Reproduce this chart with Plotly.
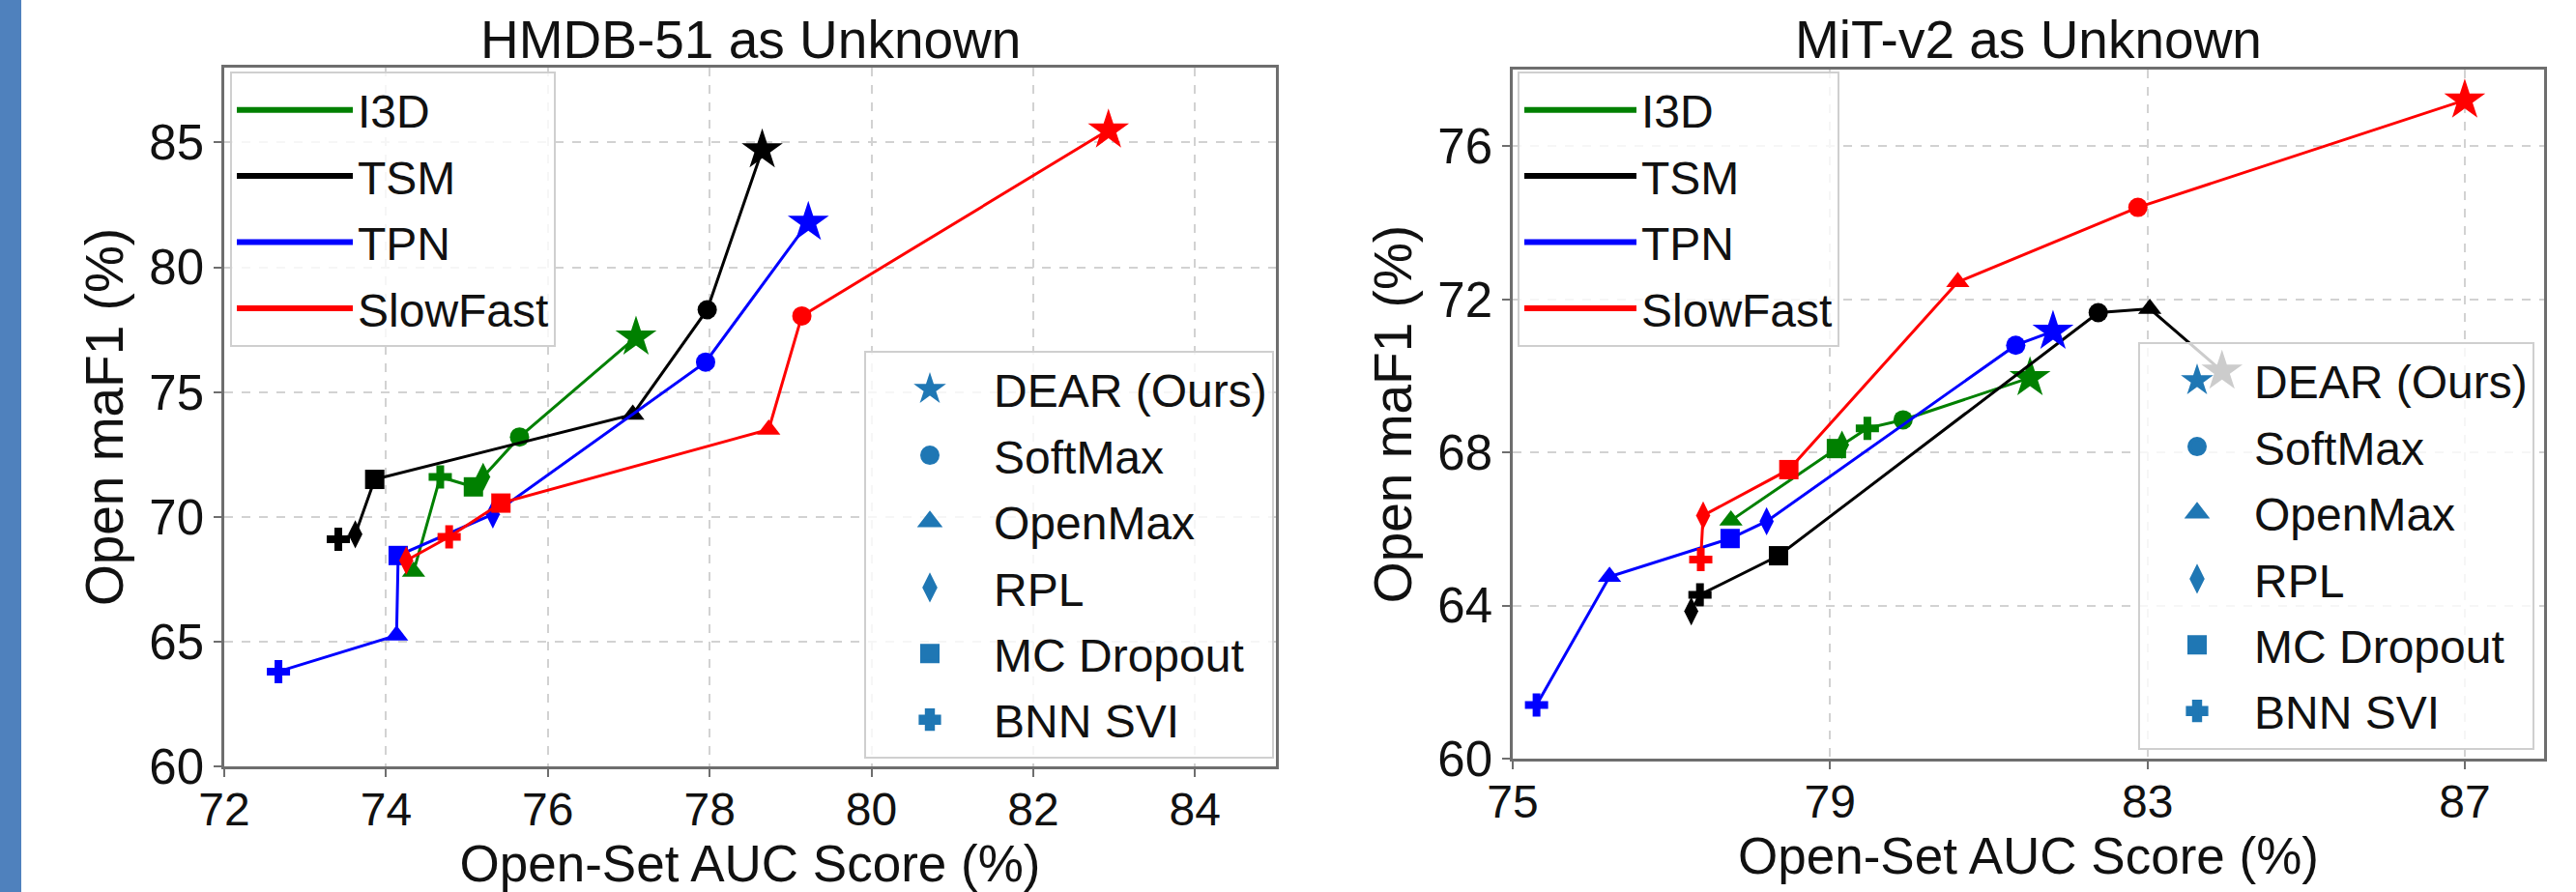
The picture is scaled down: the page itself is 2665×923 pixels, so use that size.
import plotly.graph_objects as go

# ---------------- data ----------------
models = ["I3D", "TSM", "TPN", "SlowFast"]
model_colors = ["#008000", "#000000", "#0000ff", "#ff0000"]
methods = ["DEAR (Ours)", "SoftMax", "OpenMax", "RPL", "MC Dropout", "BNN SVI"]
method_symbols = ["star", "circle", "triangle-up", "diamond-tall", "square", "cross"]
method_sizes = [32, 20, 21, 21, 20, 20]

x_ticks_hmdb = [72, 74, 76, 78, 80, 82, 84]
y_ticks_hmdb = [60, 65, 70, 75, 80, 85]
x_ticks_mit = [75, 79, 83, 87]
y_ticks_mit = [60, 64, 68, 72, 76]

# HMDB-51 as Unknown (points listed in the order each line joins them)
hmdb_i3d_method = ["DEAR (Ours)", "SoftMax", "RPL", "MC Dropout", "BNN SVI", "OpenMax"]
hmdb_i3d_auc = [77.09, 75.65, 75.20, 75.08, 74.67, 74.34]
hmdb_i3d_f1 = [77.2, 73.2, 71.6, 71.2, 71.6, 67.8]

hmdb_tsm_method = ["DEAR (Ours)", "SoftMax", "OpenMax", "MC Dropout", "RPL", "BNN SVI"]
hmdb_tsm_auc = [78.65, 77.97, 77.05, 73.86, 73.62, 73.41]
hmdb_tsm_f1 = [84.7, 78.3, 74.1, 71.5, 69.3, 69.1]

hmdb_tpn_method = ["DEAR (Ours)", "SoftMax", "RPL", "MC Dropout", "OpenMax", "BNN SVI"]
hmdb_tpn_auc = [79.22, 77.95, 75.32, 74.15, 74.13, 72.67]
hmdb_tpn_f1 = [81.8, 76.2, 70.1, 68.45, 65.25, 63.8]

hmdb_sf_method = ["DEAR (Ours)", "SoftMax", "OpenMax", "MC Dropout", "BNN SVI", "RPL"]
hmdb_sf_auc = [82.93, 79.14, 78.73, 75.42, 74.78, 74.25]
hmdb_sf_f1 = [85.5, 78.05, 73.5, 70.55, 69.2, 68.25]

# MiT-v2 as Unknown
mit_i3d_method = ["DEAR (Ours)", "SoftMax", "BNN SVI", "RPL", "MC Dropout", "OpenMax"]
mit_i3d_auc = [81.52, 79.92, 79.47, 79.15, 79.08, 77.75]
mit_i3d_f1 = [69.95, 68.85, 68.63, 68.2, 68.1, 66.22]

mit_tsm_method = ["DEAR (Ours)", "OpenMax", "SoftMax", "MC Dropout", "BNN SVI", "RPL"]
mit_tsm_auc = [83.94, 83.03, 82.38, 78.35, 77.36, 77.25]
mit_tsm_f1 = [70.12, 71.75, 71.65, 65.3, 64.28, 63.85]

mit_tpn_method = ["DEAR (Ours)", "SoftMax", "RPL", "MC Dropout", "OpenMax", "BNN SVI"]
mit_tpn_auc = [81.81, 81.34, 78.2, 77.74, 76.22, 75.3]
mit_tpn_f1 = [71.16, 70.8, 66.2, 65.75, 64.75, 61.4]

mit_sf_method = ["DEAR (Ours)", "SoftMax", "OpenMax", "MC Dropout", "RPL", "BNN SVI"]
mit_sf_auc = [87.0, 82.88, 80.61, 78.48, 77.4, 77.37]
mit_sf_f1 = [77.2, 74.4, 72.45, 67.55, 66.35, 65.2]

panel_titles = ["HMDB-51 as Unknown", "MiT-v2 as Unknown"]
x_title = "Open-Set AUC Score (%)"
y_title = "Open maF1 (%)"

# ---------------- figure ----------------
W, H = 2665, 923
FONT = "Liberation Sans, Arial, sans-serif"
LEGEND_BLUE = "#1f77b4"

sym_of = dict(zip(methods, method_symbols))
size_of = dict(zip(methods, method_sizes))

panels = [
    ("x", "y", [
        (hmdb_i3d_method, hmdb_i3d_auc, hmdb_i3d_f1),
        (hmdb_tsm_method, hmdb_tsm_auc, hmdb_tsm_f1),
        (hmdb_tpn_method, hmdb_tpn_auc, hmdb_tpn_f1),
        (hmdb_sf_method, hmdb_sf_auc, hmdb_sf_f1),
    ]),
    ("x2", "y2", [
        (mit_i3d_method, mit_i3d_auc, mit_i3d_f1),
        (mit_tsm_method, mit_tsm_auc, mit_tsm_f1),
        (mit_tpn_method, mit_tpn_auc, mit_tpn_f1),
        (mit_sf_method, mit_sf_auc, mit_sf_f1),
    ]),
]

fig = go.Figure()
for p, (xa, ya, series) in enumerate(panels):
    for m, (meth, auc, f1) in enumerate(series):
        fig.add_trace(go.Scatter(
            x=auc, y=f1, xaxis=xa, yaxis=ya, mode="lines+markers",
            name=models[m], showlegend=False,
            line=dict(color=model_colors[m], width=3),
            marker=dict(color=model_colors[m], opacity=1,
                        symbol=[sym_of[k] for k in meth],
                        size=[size_of[k] for k in meth],
                        line=dict(width=0)),
            text=meth, hovertemplate="%{text}<br>AUC %{x}<br>maF1 %{y}<extra>" + models[m] + "</extra>",
        ))

line_legends = ["legend", "legend3"]
marker_legends = ["legend2", "legend4"]
for p, (xa, ya, _) in enumerate(panels):
    for m, name in enumerate(models):
        fig.add_trace(go.Scatter(
            x=[None], y=[None], xaxis=xa, yaxis=ya, mode="lines", name=name,
            line=dict(color=model_colors[m], width=6),
            legend=line_legends[p], legendgroup=f"l{p}{m}", showlegend=True))
    for k, meth in enumerate(methods):
        fig.add_trace(go.Scatter(
            x=[None], y=[None], xaxis=xa, yaxis=ya, mode="markers", name=meth,
            marker=dict(color=LEGEND_BLUE, opacity=1, symbol=method_symbols[k], size=16,
                        line=dict(width=4, color=LEGEND_BLUE)),
            legend=marker_legends[p], legendgroup=f"m{p}{k}", showlegend=True))

axis_common = dict(
    showline=True, mirror=True, linecolor="#6e6e6e", linewidth=2.5,
    ticks="outside", ticklen=8, tickwidth=2, tickcolor="#6e6e6e",
    showgrid=True, gridcolor="#d2d2d2", gridwidth=1.5, griddash="dash",
    zeroline=False, automargin=False,
)
x_tickfont = dict(size=48, color="#111111", family=FONT)
y_tickfont = dict(size=51, color="#111111", family=FONT)

legend_common = dict(
    bgcolor="rgba(255,255,255,0.8)", bordercolor="#cfcfcf", borderwidth=2,
    font=dict(size=48, color="#111111", family=FONT), tracegroupgap=3,
)

fig.update_layout(
    width=W, height=H, autosize=False,
    margin=dict(l=0, r=0, t=0, b=0, pad=0, autoexpand=False),
    paper_bgcolor="white", plot_bgcolor="white",
    font=dict(family=FONT, color="#111111"),
    xaxis=dict(domain=[232 / W, 1320 / W], range=[72, 85], tickvals=x_ticks_hmdb, anchor="y",
               ticklabelstandoff=-7, tickfont=x_tickfont,
               title=dict(text=x_title, font=dict(size=53), standoff=12), **axis_common),
    yaxis=dict(domain=[1 - 793 / H, 1 - 70 / H], range=[60, 88], tickvals=y_ticks_hmdb, anchor="x",
               tickfont=y_tickfont,
               title=dict(text=y_title, font=dict(size=55), standoff=10), **axis_common),
    xaxis2=dict(domain=[1565 / W, 2632 / W], range=[75, 88], tickvals=x_ticks_mit, anchor="y2",
                ticklabelstandoff=-7, tickfont=x_tickfont,
                title=dict(text=x_title, font=dict(size=53), standoff=12), **axis_common),
    yaxis2=dict(domain=[1 - 785 / H, 1 - 72 / H], range=[60, 78], tickvals=y_ticks_mit, anchor="x2",
                tickfont=y_tickfont,
                title=dict(text=y_title, font=dict(size=55), standoff=10), **axis_common),
    legend=dict(x=238 / W, y=1 - 74 / H, xanchor="left", yanchor="top", itemwidth=120, **legend_common),
    legend2=dict(x=1318 / W, y=1 - 785 / H, xanchor="right", yanchor="bottom", itemwidth=122, **legend_common),
    legend3=dict(x=1570 / W, y=1 - 74 / H, xanchor="left", yanchor="top", itemwidth=116, **legend_common),
    legend4=dict(x=2622 / W, y=1 - 776 / H, xanchor="right", yanchor="bottom", itemwidth=108, **legend_common),
    annotations=[
        dict(text=panel_titles[0], x=776 / W, y=1 - 41 / H, xref="paper", yref="paper",
             xanchor="center", yanchor="middle", showarrow=False, font=dict(size=55)),
        dict(text=panel_titles[1], x=2098 / W, y=1 - 41 / H, xref="paper", yref="paper",
             xanchor="center", yanchor="middle", showarrow=False, font=dict(size=55)),
    ],
    shapes=[
        dict(type="rect", xref="paper", yref="paper", x0=0, x1=22 / W, y0=0, y1=1,
             fillcolor="#4f81bd", line=dict(width=0), layer="below"),
    ],
)

fig.write_html(
    "out.html",
    config={"displayModeBar": False},
    post_script="document.body.style.margin='0';document.body.style.padding='0';"
                "document.body.style.overflow='hidden';"
                "document.documentElement.style.overflow='hidden';",
)
